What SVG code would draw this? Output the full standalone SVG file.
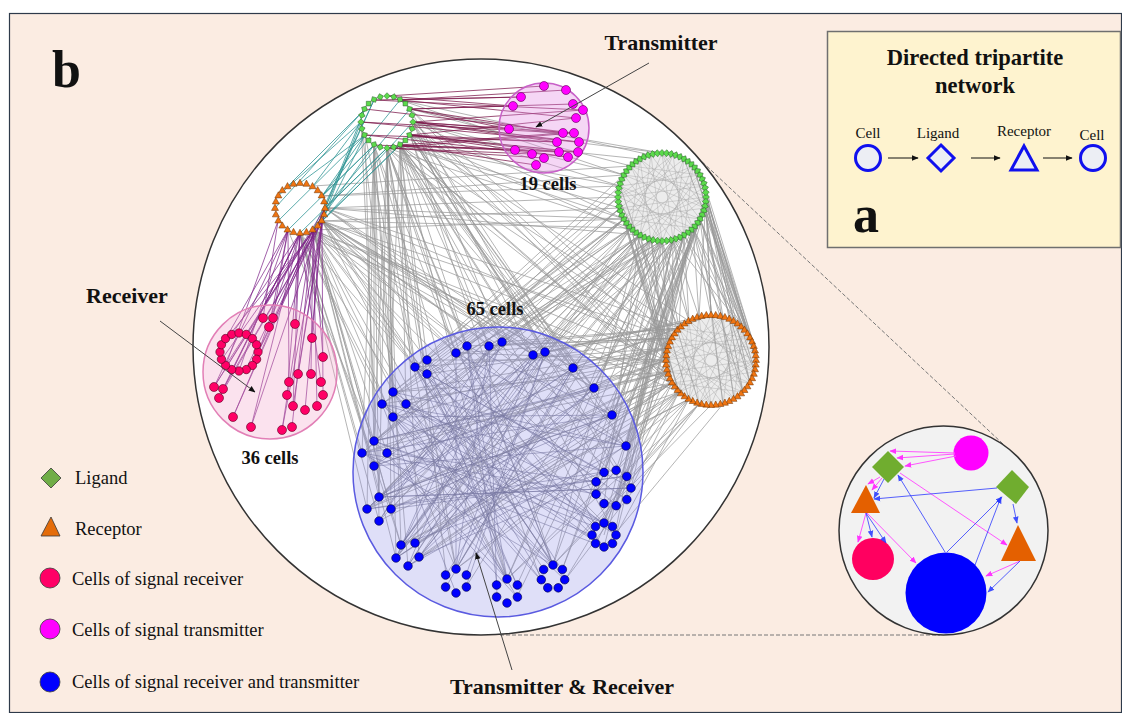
<svg xmlns="http://www.w3.org/2000/svg" width="1122" height="713" viewBox="0 0 1122 713">
<style>
.t{font-family:"Liberation Serif","Times New Roman",serif;fill:#111}
.b{font-weight:bold}
.eg{stroke:#999;stroke-width:1;opacity:.72;fill:none}
.ei{stroke:#999;stroke-width:.8;opacity:.45;fill:none}
.eb{stroke:#707088;stroke-width:.85;opacity:.65;fill:none}
.em{stroke:#7d1a4c;stroke-width:.9;opacity:.85;fill:none}
.et{stroke:#2a9292;stroke-width:.9;opacity:.85;fill:none}
.ep{stroke:#7e2388;stroke-width:.9;opacity:.8;fill:none}
.gd{fill:#5cdb4c;stroke:#2c5e2c;stroke-width:.5}
.ot{fill:#f07512;stroke:#6b3000;stroke-width:.5}
.rn{fill:#ff0066;stroke:#5a0022;stroke-width:.6}
.mn{fill:#ff00ff;stroke:#5a0050;stroke-width:.6}
.bn{fill:#0000ff;stroke:#00004a;stroke-width:.6}
.ptr{stroke:#444;stroke-width:1;fill:none}
.dash{stroke:#777;stroke-width:1;stroke-dasharray:4 2;fill:none}
.ip{stroke:#ff55ff;stroke-width:1;fill:none}
.ib{stroke:#3a46ff;stroke-width:1;fill:none;opacity:.85}
</style>
<defs>
<marker id="ah" viewBox="0 0 10 10" refX="9" refY="5" markerWidth="7" markerHeight="7" markerUnits="userSpaceOnUse" orient="auto"><path d="M0 1L10 5L0 9z" fill="#111"/></marker>
<marker id="ap" viewBox="0 0 10 10" refX="9" refY="5" markerWidth="7" markerHeight="7" markerUnits="userSpaceOnUse" orient="auto"><path d="M0 1L10 5L0 9z" fill="#ff33ff"/></marker>
<marker id="ab" viewBox="0 0 10 10" refX="9" refY="5" markerWidth="7" markerHeight="7" markerUnits="userSpaceOnUse" orient="auto"><path d="M0 1L10 5L0 9z" fill="#2233ff"/></marker>
<path id="dG" d="M40.5 0L44 -3.3L47.5 0L44 3.3Z"/>
<path id="dg" d="M22.7 0L26 -3.2L29.3 0L26 3.2Z"/>
<path id="tr" d="M0 -3.8L3.5 2.4H-3.5Z"/>
</defs>

<rect x="9.5" y="13.5" width="1112" height="699" fill="#fbece2" stroke="#2e3a4a" stroke-width="1.2"/>

<g id="panel-a">
<rect x="827.5" y="31.5" width="293" height="216" fill="#fef3cf" stroke="#6f6f6f" stroke-width="1.5"/>
<text class="t b" x="975" y="65" font-size="22.5" text-anchor="middle">Directed tripartite</text>
<text class="t b" x="975" y="93" font-size="22.5" text-anchor="middle">network</text>
<text class="t" x="868" y="138" font-size="15" text-anchor="middle">Cell</text>
<text class="t" x="938" y="138" font-size="15" text-anchor="middle">Ligand</text>
<text class="t" x="1024" y="136" font-size="15" text-anchor="middle">Receptor</text>
<text class="t" x="1092" y="140" font-size="15" text-anchor="middle">Cell</text>
<circle cx="868" cy="158" r="12.5" fill="#eceef4" stroke="#1010ee" stroke-width="3"/>
<path d="M941 145L954 158L941 171L928 158Z" fill="#eceef4" stroke="#1010ee" stroke-width="3"/>
<path d="M1024 146L1037 170H1011Z" fill="#eceef4" stroke="#1010ee" stroke-width="3"/>
<circle cx="1093" cy="158" r="12.5" fill="#eceef4" stroke="#1010ee" stroke-width="3"/>
<path d="M888 158H918" stroke="#111" stroke-width="1" marker-end="url(#ah)"/>
<path d="M971 158H1000" stroke="#111" stroke-width="1" marker-end="url(#ah)"/>
<path d="M1043 158H1072" stroke="#111" stroke-width="1" marker-end="url(#ah)"/>
<text class="t b" x="853" y="232" font-size="52">a</text>
</g>

<text class="t b" x="52" y="87" font-size="52">b</text>

<path class="dash" d="M698 158L1003 444M500 635H940"/>

<circle id="main-circle" cx="481" cy="347" r="288" fill="#fff" stroke="#333" stroke-width="1.5"/>

<g id="connectors">
<circle cx="662" cy="197" r="42" fill="#a8a8a8" opacity=".22"/>
<circle cx="711" cy="360" r="43" fill="#a8a8a8" opacity=".22"/>
<path class="eg" d="M413 122L624 175M410 135L618 197M410 109L631 166M400 145L620 208M413 122L620 186M410 135L640 159M400 100L651 155M400 145L624 219M387 148L631 228M413 122L662 153M410 109L673 155M410 135L640 235M400 100L624 175M400 145L620 186M413 122L624 219
M400 145L672 383M410 135L666 360M387 148L672 338M400 145L679 328M410 135L689 321M413 122L668 348M387 148L668 372M400 145L679 392M413 122L679 392M410 109L689 399M400 100L672 338
M387 148L456 353M400 145L489 346M374 145L415 367M387 148L393 392M400 145L533 355M410 135L573 368M387 148L374 441M374 145L382 404M400 145L594 388M387 148L379 497M400 145L626 446M374 145L362 453M387 148L401 545M400 145L604 472M410 135L616 470M374 145L367 509M387 148L456 569M400 145L507 579M410 135L553 565M387 148L393 417M400 145L387 453M374 145L374 466M387 148L391 509M400 145L419 557M410 135L612 415M387 148L427 374M400 145L406 404M374 145L379 521M387 148L396 558M400 145L596 527M410 135L545 352M387 148L467 346M400 145L427 360M374 145L408 566M387 148L541 580M400 145L446 575
M413 122L502 342M410 135L594 388M400 145L573 368M387 148L612 415M374 145L456 353M361 122L393 392M365 135L374 441M413 122L626 446M410 135L631 488M400 145L616 535M387 148L553 565M374 145L507 579M365 135L456 569M361 122L379 497M410 109L545 352M413 122L533 355M410 135L489 346M400 145L467 346M387 148L415 367M374 145L393 417
M325 208L618 197M322 221L620 208M322 196L620 186M325 208L624 219M322 221L631 228M322 196L624 175M313 186L631 166M325 208L640 235M313 230L624 219
M322 221L666 360M313 230L668 372M325 208L668 348M322 221L672 338M313 230L672 383M325 208L679 328M300 233L679 392
M313 230L456 353M300 233L415 367M313 230L393 392M322 221L533 355M313 230L374 441M300 233L382 404M322 221L573 368M313 230L594 388M300 233L362 453M322 221L626 446M313 230L379 497M300 233L367 509M313 230L456 569M322 221L507 579M313 230L401 545M322 221L596 482M300 233L393 417M313 230L387 453M322 221L489 346M313 230L427 374M322 221L545 352M300 233L374 466M313 230L391 509M322 221L544 570M313 230L396 558M300 233L379 521
M325 208L502 342M322 221L456 353M313 230L415 367M300 233L406 404M288 230L374 441M313 230L612 415M322 221L594 388M325 208L573 368M322 221L631 488M313 230L604 523M300 233L401 545M322 221L553 565M313 230L507 579M325 208L533 355M322 221L427 360M313 230L467 346
M640 235L456 353M631 228L415 367M624 219L393 392M651 240L374 441M640 235L379 497M631 228L401 545M662 241L456 569M651 240L507 579M640 235L553 565M662 241L489 346M631 228L382 404M624 219L362 453M640 235L367 509M651 240L393 417M662 241L533 355M673 240L573 368M662 241L594 388M684 235L612 415M673 240L626 446M662 241L604 472M684 235L604 523M673 240L616 506M651 240L396 558M640 235L419 557M631 228L408 566M624 219L427 360M620 208L467 346M618 197L415 367M620 208L406 404M624 219L387 453M631 228L374 466M640 235L391 509M651 240L379 521M662 241L415 543M673 240L517 585M684 235L562 570M693 228L616 535M684 235L545 352M673 240L502 342M662 241L427 374M651 240L382 404M640 235L374 441M693 228L626 446M700 219L612 415
M618 197L456 353M620 186L427 360M624 175L415 367M620 208L393 392M624 219L374 441M631 228L379 497M640 235L401 545M651 240L456 569M662 241L507 579M673 240L553 565M684 235L604 547M693 228L631 488M700 219L626 446M705 208L612 415M673 240L594 388M684 235L573 368M662 241L545 352M651 240L533 355M640 235L489 346M631 228L467 346M624 219L382 404M640 235L362 453M651 240L367 509M662 241L396 558M673 240L419 557M684 235L466 587M693 228L517 597M700 219L562 570M706 197L604 472M705 208L596 494
M662 241L627 500M673 240L613 544M684 235L616 506M651 240L596 482M640 235L604 504M693 228L604 535M700 219L596 494M705 208L627 476M706 197L616 470
M666 360L456 353M668 348L415 367M668 372L393 392M672 383L374 441M679 392L379 497M689 399L401 545M666 360L382 404M668 372L362 453M672 383L367 509M679 392L456 569M689 399L507 579M699 404L553 565M672 338L489 346M679 328L533 355M668 348L393 417M666 360L387 453M668 372L391 509M672 383L396 558M679 392L408 566M672 338L427 374M668 348L406 404M666 360L374 466M668 372L379 521M672 383L419 557M689 399L592 535M699 404L604 504M679 392L596 494M672 338L467 346M679 328L502 342M689 321L545 352M666 360L573 368M668 372L594 388M672 383L612 415M679 392L626 446M689 399L415 543
M666 360L427 360M668 348L393 392M668 372L374 441M672 383L379 497M679 392L401 545M689 399L456 569M699 404L507 579M711 405L553 565M723 404L604 547M672 338L456 353M679 328L489 346M689 321L533 355M699 317L545 352M711 315L573 368M666 360L594 388M668 372L612 415M672 383L626 446M679 392L631 488M689 399L616 535M699 404L565 580M668 348L362 453M666 360L367 509M668 372L396 558M672 383L408 566
M666 360L626 446M668 348L612 415M672 338L594 388M679 328L573 368M666 360L616 506M668 372L604 523M672 383L596 544M679 392L565 580
M706 197L734 321M700 219L750 338M705 208L723 317M693 228L711 315M684 235L689 321M700 219L743 328M706 197L755 348M705 208L756 360M693 228L699 317M684 235L679 328M673 240L672 338M662 241L668 348M651 240L666 360M700 219L734 321M706 197L711 315M705 208L743 328M693 228L750 338M684 235L723 317M673 240L699 317M662 241L689 321
M706 197L756 360M705 208L755 372M700 219L750 383M693 228L743 392M705 186L755 348M706 197L750 338M640 235L668 372M631 228L666 360M651 240L672 383M624 219L679 392M662 241L679 328M673 240L689 321
M700 175L756 360M705 186L750 383M706 197L743 392M705 208L734 399M700 219L723 404M693 228L755 372M684 235L750 338M673 240L743 328M700 175L734 321M693 166L750 338M705 186L711 315M706 197L699 317M684 159L755 348M693 166L756 360
M618 197L666 360M620 208L668 372M624 219L672 383M631 228L679 392M640 235L689 399M651 240L699 404M620 186L672 338M618 197L679 328"/>
<path class="ei" d="M706 197L631 228M705 208L624 219M700 219L620 208M693 228L618 197M684 235L620 186M673 240L624 175M662 241L631 166M651 240L640 159M640 235L651 155M631 228L662 153M624 219L673 155M620 208L684 159M618 197L693 166M620 186L700 175M624 175L705 186M631 166L706 197M640 159L705 208M651 155L700 219M662 153L693 228M673 155L684 235M684 159L673 240M693 166L662 241M700 175L651 240M705 186L640 235
M706 197L620 208M700 219L620 186M684 235L631 166M662 241L651 155M640 235L673 155M624 219L693 166M618 197L705 186M624 175L705 208M640 159L693 228M662 153L673 240M684 159L651 240M700 175L631 228M706 197L651 240M693 228L624 219M662 241L620 186M631 228L640 159M618 197L673 155M631 166L700 175M662 153L705 208M693 166L684 235
M756 360L679 392M755 372L672 383M750 383L668 372M743 392L666 360M734 399L668 348M723 404L672 338M711 405L679 328M699 404L689 321M689 399L699 317M679 392L711 315M672 383L723 317M668 372L734 321M666 360L743 328M668 348L750 338M672 338L755 348M679 328L756 360M689 321L755 372M699 317L750 383M711 315L743 392M723 317L734 399M734 321L723 404M743 328L711 405M750 338L699 404M755 348L689 399
M756 360L668 372M750 383L668 348M734 399L679 328M711 405L699 317M689 399L723 317M672 383L743 328M666 360L755 348M672 338L755 372M689 321L743 392M711 315L723 404M734 321L699 404M750 338L679 392M756 360L699 404M743 392L672 383M711 405L668 348M679 392L689 321M666 360L723 317M679 328L750 338M711 315L755 372M743 328L734 399"/>
<path class="eb" d="M415 367L604 472M393 392L604 523M374 441L594 388M382 404L553 565M379 497L573 368M367 509L545 352M362 453L596 494M401 545L533 355M393 417L612 415M387 453L507 579M374 466L626 446M379 521L489 346M456 353L456 569M467 346L507 579M489 346L396 558M502 342L408 566M533 355L367 509M545 352L374 466M427 360L596 527M427 374L553 565M406 404L616 506M594 388L401 545M612 415L362 453M626 446L382 404M631 488L379 497M604 523L374 441M456 569L533 355M507 579L427 360M553 565L393 392M419 557L573 368M415 543L594 388M396 558L502 342M408 566L545 352M456 353L626 446M467 346L612 415M415 367L616 535M393 392L541 580M382 404L604 547M374 441L517 597M362 453L596 544M379 497L631 488M367 509L627 476M391 509L612 415M401 545L604 472M419 557L596 482M446 575L573 368M466 575L545 352M497 585L467 346M517 585L427 374M548 588L415 367M565 580L393 417M592 535L387 453M604 547L406 404
M456 353L604 547M467 346L553 565M489 346L456 569M502 342L379 521M533 355L396 558M545 352L401 545M573 368L367 509M594 388L374 466M612 415L379 497M626 446L393 392M631 488L415 367M627 500L427 360M616 506L456 353M604 472L382 404M596 482L387 453M616 535L406 404M604 523L393 417M592 535L427 374M565 580L415 367M548 588L382 404M517 597L393 392M497 597L489 346M466 587L545 352M446 587L573 368M419 557L594 388M408 566L626 446M396 558L612 415M391 509L627 476M367 509L616 470M374 441L596 527M362 453L553 565M393 417L507 579M382 404L456 593M415 367L517 585M427 360L562 570"/>
<path class="et" d="M361 122L322 221M365 109L325 208M365 135L322 196M374 145L313 230M387 148L300 233M361 122L313 186M365 135L300 183M365 109L288 186M374 100L325 208M374 145L322 196M365 135L322 221M387 148L325 208M400 145L322 221M410 135L313 230M413 122L322 221M410 109L325 208M400 100L322 196M361 122L278 196M365 109L275 208M365 135L278 221M374 145L288 230M374 100L313 230"/>
<path class="em" d="M413 122L509 129M410 109L513 106M400 100L521 97M387 96L544 86M400 100L566 90M410 109L573 104M413 122L583 110M410 135L576 118M400 145L563 133M387 148L574 133M410 135L557 142M413 122L579 142M400 145L515 150M387 148L532 154M410 135L559 152M400 145L578 152M387 148L544 158M410 135L568 157M400 145L536 165M361 122L563 133M365 135L557 142M365 109L574 133M374 145L559 152M374 100L583 110M361 122L579 142M365 135L568 157M413 122L574 133M410 109L563 133M400 100L576 118M413 122L557 142M410 135L578 152M410 109L509 129M387 96L513 106M374 100L521 97"/>
<path class="ep" d="M300 233L220 352M288 230L222 345M313 230L226 365M300 233L232 370M288 230L239 371M313 230L214 387M300 233L223 389M322 221L219 398M313 230L233 417M300 233L251 427M322 221L282 430M313 230L292 427M300 233L293 406M322 221L305 410M313 230L317 406M300 233L287 395M288 230L289 382M322 221L298 374M313 230L311 374M300 233L321 382M322 221L323 395M313 230L323 357M322 221L312 338M300 233L295 324M288 230L269 327M278 221L263 318M288 230L273 318M313 230L246 369M322 221L252 365M300 233L256 359M325 208L258 352M322 221L226 339M313 230L222 359M325 208L214 387M322 221L223 389M325 208L233 417M325 208L293 406M300 233L219 398M288 230L214 387M278 221L226 365M325 208L251 427M313 230L282 430"/>
</g>

<g id="group-blue">
<circle cx="498" cy="472" r="145" fill="#8c8ce6" fill-opacity=".28" stroke="#5a5ae0" stroke-width="1.5"/>
<g class="bn">
<circle cx="456" cy="353" r="4.3"/><circle cx="467" cy="346" r="4.3"/><circle cx="489" cy="346" r="4.3"/><circle cx="502" cy="342" r="4.3"/><circle cx="533" cy="355" r="4.3"/><circle cx="545" cy="352" r="4.3"/><circle cx="415" cy="367" r="4.3"/><circle cx="427" cy="360" r="4.3"/><circle cx="427" cy="374" r="4.3"/><circle cx="573" cy="368" r="4.3"/><circle cx="393" cy="392" r="4.3"/><circle cx="382" cy="404" r="4.3"/><circle cx="406" cy="404" r="4.3"/><circle cx="393" cy="417" r="4.3"/><circle cx="594" cy="388" r="4.3"/><circle cx="612" cy="415" r="4.3"/><circle cx="374" cy="441" r="4.3"/><circle cx="362" cy="453" r="4.3"/><circle cx="387" cy="453" r="4.3"/><circle cx="374" cy="466" r="4.3"/><circle cx="626" cy="446" r="4.3"/><circle cx="379" cy="497" r="4.3"/><circle cx="367" cy="509" r="4.3"/><circle cx="391" cy="509" r="4.3"/><circle cx="379" cy="521" r="4.3"/><circle cx="401" cy="545" r="4.3"/><circle cx="415" cy="543" r="4.3"/><circle cx="396" cy="558" r="4.3"/><circle cx="419" cy="557" r="4.3"/><circle cx="408" cy="566" r="4.3"/>
<g transform="translate(613 488)"><circle cx="18" r="4.3"/><circle cx="18" r="4.3" transform="rotate(40)"/><circle cx="18" r="4.3" transform="rotate(80)"/><circle cx="18" r="4.3" transform="rotate(120)"/><circle cx="18" r="4.3" transform="rotate(160)"/><circle cx="18" r="4.3" transform="rotate(200)"/><circle cx="18" r="4.3" transform="rotate(240)"/><circle cx="18" r="4.3" transform="rotate(280)"/><circle cx="18" r="4.3" transform="rotate(320)"/></g>
<g transform="translate(604 535)"><circle cx="12" r="4.3"/><circle cx="12" r="4.3" transform="rotate(45)"/><circle cx="12" r="4.3" transform="rotate(90)"/><circle cx="12" r="4.3" transform="rotate(135)"/><circle cx="12" r="4.3" transform="rotate(180)"/><circle cx="12" r="4.3" transform="rotate(225)"/><circle cx="12" r="4.3" transform="rotate(270)"/><circle cx="12" r="4.3" transform="rotate(315)"/></g>
<g transform="translate(456 581)"><circle cx="12" r="4.3" transform="rotate(30)"/><circle cx="12" r="4.3" transform="rotate(90)"/><circle cx="12" r="4.3" transform="rotate(150)"/><circle cx="12" r="4.3" transform="rotate(210)"/><circle cx="12" r="4.3" transform="rotate(270)"/><circle cx="12" r="4.3" transform="rotate(330)"/></g>
<g transform="translate(507 591)"><circle cx="12" r="4.3" transform="rotate(30)"/><circle cx="12" r="4.3" transform="rotate(90)"/><circle cx="12" r="4.3" transform="rotate(150)"/><circle cx="12" r="4.3" transform="rotate(210)"/><circle cx="12" r="4.3" transform="rotate(270)"/><circle cx="12" r="4.3" transform="rotate(330)"/></g>
<g transform="translate(553 577)"><circle cx="12" r="4.3" transform="rotate(-90)"/><circle cx="12" r="4.3" transform="rotate(-38.6)"/><circle cx="12" r="4.3" transform="rotate(12.9)"/><circle cx="12" r="4.3" transform="rotate(64.3)"/><circle cx="12" r="4.3" transform="rotate(115.7)"/><circle cx="12" r="4.3" transform="rotate(167.1)"/><circle cx="12" r="4.3" transform="rotate(218.6)"/></g>
</g>
</g>

<g id="group-receiver">
<circle cx="270" cy="372" r="67" fill="#f2a0c6" fill-opacity=".3" stroke="#e27fb6" stroke-width="1.5"/>
<g class="rn">
<g transform="translate(239 352)"><circle cx="19" r="4.2"/><circle cx="19" r="4.2" transform="rotate(22.5)"/><circle cx="19" r="4.2" transform="rotate(45)"/><circle cx="19" r="4.2" transform="rotate(67.5)"/><circle cx="19" r="4.2" transform="rotate(90)"/><circle cx="19" r="4.2" transform="rotate(112.5)"/><circle cx="19" r="4.2" transform="rotate(135)"/><circle cx="19" r="4.2" transform="rotate(157.5)"/><circle cx="19" r="4.2" transform="rotate(180)"/><circle cx="19" r="4.2" transform="rotate(202.5)"/><circle cx="19" r="4.2" transform="rotate(225)"/><circle cx="19" r="4.2" transform="rotate(247.5)"/><circle cx="19" r="4.2" transform="rotate(270)"/><circle cx="19" r="4.2" transform="rotate(292.5)"/><circle cx="19" r="4.2" transform="rotate(315)"/><circle cx="19" r="4.2" transform="rotate(337.5)"/></g>
<circle cx="263" cy="318" r="4.5"/><circle cx="273" cy="318" r="4.5"/><circle cx="269" cy="327" r="4.5"/><circle cx="295" cy="324" r="4.5"/><circle cx="312" cy="338" r="4.5"/><circle cx="323" cy="357" r="4.5"/><circle cx="298" cy="374" r="4.5"/><circle cx="311" cy="374" r="4.5"/><circle cx="289" cy="382" r="4.5"/><circle cx="321" cy="382" r="4.5"/><circle cx="287" cy="395" r="4.5"/><circle cx="323" cy="395" r="4.5"/><circle cx="293" cy="406" r="4.5"/><circle cx="305" cy="410" r="4.5"/><circle cx="317" cy="406" r="4.5"/><circle cx="214" cy="387" r="4.5"/><circle cx="223" cy="389" r="4.5"/><circle cx="219" cy="398" r="4.5"/><circle cx="233" cy="417" r="4.5"/><circle cx="251" cy="427" r="4.5"/><circle cx="282" cy="430" r="4.5"/><circle cx="292" cy="427" r="4.5"/>
</g>
</g>

<g id="group-transmitter">
<circle cx="544" cy="128" r="45" fill="#e28ae2" fill-opacity=".35" stroke="#c860c8" stroke-width="1.5"/>
<g class="mn">
<circle cx="544" cy="86" r="4.5"/><circle cx="566" cy="90" r="4.5"/><circle cx="521" cy="97" r="4.5"/><circle cx="513" cy="106" r="4.5"/><circle cx="573" cy="104" r="4.5"/><circle cx="583" cy="110" r="4.5"/><circle cx="576" cy="118" r="4.5"/><circle cx="509" cy="129" r="4.5"/><circle cx="563" cy="133" r="4.5"/><circle cx="574" cy="133" r="4.5"/><circle cx="557" cy="142" r="4.5"/><circle cx="579" cy="142" r="4.5"/><circle cx="515" cy="150" r="4.5"/><circle cx="532" cy="154" r="4.5"/><circle cx="559" cy="152" r="4.5"/><circle cx="578" cy="152" r="4.5"/><circle cx="544" cy="158" r="4.5"/><circle cx="568" cy="157" r="4.5"/><circle cx="536" cy="165" r="4.5"/>
</g>
</g>

<g id="ring-ligand-small" class="gd" transform="translate(387 122)">
<use href="#dg"/><use href="#dg" transform="rotate(15)"/><use href="#dg" transform="rotate(30)"/><use href="#dg" transform="rotate(45)"/><use href="#dg" transform="rotate(60)"/><use href="#dg" transform="rotate(75)"/><use href="#dg" transform="rotate(90)"/><use href="#dg" transform="rotate(105)"/><use href="#dg" transform="rotate(120)"/><use href="#dg" transform="rotate(135)"/><use href="#dg" transform="rotate(150)"/><use href="#dg" transform="rotate(165)"/><use href="#dg" transform="rotate(180)"/><use href="#dg" transform="rotate(195)"/><use href="#dg" transform="rotate(210)"/><use href="#dg" transform="rotate(225)"/><use href="#dg" transform="rotate(240)"/><use href="#dg" transform="rotate(255)"/><use href="#dg" transform="rotate(270)"/><use href="#dg" transform="rotate(285)"/><use href="#dg" transform="rotate(300)"/><use href="#dg" transform="rotate(315)"/><use href="#dg" transform="rotate(330)"/><use href="#dg" transform="rotate(345)"/>
</g>

<g id="ring-receptor-small" class="ot" transform="translate(300 208)">
<use href="#tr" transform="translate(25)"/><use href="#tr" transform="rotate(15)translate(25)rotate(-15)"/><use href="#tr" transform="rotate(30)translate(25)rotate(-30)"/><use href="#tr" transform="rotate(45)translate(25)rotate(-45)"/><use href="#tr" transform="rotate(60)translate(25)rotate(-60)"/><use href="#tr" transform="rotate(75)translate(25)rotate(-75)"/><use href="#tr" transform="rotate(90)translate(25)rotate(-90)"/><use href="#tr" transform="rotate(105)translate(25)rotate(-105)"/><use href="#tr" transform="rotate(120)translate(25)rotate(-120)"/><use href="#tr" transform="rotate(135)translate(25)rotate(-135)"/><use href="#tr" transform="rotate(150)translate(25)rotate(-150)"/><use href="#tr" transform="rotate(165)translate(25)rotate(-165)"/><use href="#tr" transform="rotate(180)translate(25)rotate(-180)"/><use href="#tr" transform="rotate(195)translate(25)rotate(-195)"/><use href="#tr" transform="rotate(210)translate(25)rotate(-210)"/><use href="#tr" transform="rotate(225)translate(25)rotate(-225)"/><use href="#tr" transform="rotate(240)translate(25)rotate(-240)"/><use href="#tr" transform="rotate(255)translate(25)rotate(-255)"/><use href="#tr" transform="rotate(270)translate(25)rotate(-270)"/><use href="#tr" transform="rotate(285)translate(25)rotate(-285)"/><use href="#tr" transform="rotate(300)translate(25)rotate(-300)"/><use href="#tr" transform="rotate(315)translate(25)rotate(-315)"/><use href="#tr" transform="rotate(330)translate(25)rotate(-330)"/><use href="#tr" transform="rotate(345)translate(25)rotate(-345)"/>
</g>

<g id="ring-ligand-large" class="gd" transform="translate(662 197)">
<use href="#dG"/><use href="#dG" transform="rotate(6)"/><use href="#dG" transform="rotate(12)"/><use href="#dG" transform="rotate(18)"/><use href="#dG" transform="rotate(24)"/><use href="#dG" transform="rotate(30)"/><use href="#dG" transform="rotate(36)"/><use href="#dG" transform="rotate(42)"/><use href="#dG" transform="rotate(48)"/><use href="#dG" transform="rotate(54)"/><use href="#dG" transform="rotate(60)"/><use href="#dG" transform="rotate(66)"/><use href="#dG" transform="rotate(72)"/><use href="#dG" transform="rotate(78)"/><use href="#dG" transform="rotate(84)"/><use href="#dG" transform="rotate(90)"/><use href="#dG" transform="rotate(96)"/><use href="#dG" transform="rotate(102)"/><use href="#dG" transform="rotate(108)"/><use href="#dG" transform="rotate(114)"/><use href="#dG" transform="rotate(120)"/><use href="#dG" transform="rotate(126)"/><use href="#dG" transform="rotate(132)"/><use href="#dG" transform="rotate(138)"/><use href="#dG" transform="rotate(144)"/><use href="#dG" transform="rotate(150)"/><use href="#dG" transform="rotate(156)"/><use href="#dG" transform="rotate(162)"/><use href="#dG" transform="rotate(168)"/><use href="#dG" transform="rotate(174)"/><use href="#dG" transform="rotate(180)"/><use href="#dG" transform="rotate(186)"/><use href="#dG" transform="rotate(192)"/><use href="#dG" transform="rotate(198)"/><use href="#dG" transform="rotate(204)"/><use href="#dG" transform="rotate(210)"/><use href="#dG" transform="rotate(216)"/><use href="#dG" transform="rotate(222)"/><use href="#dG" transform="rotate(228)"/><use href="#dG" transform="rotate(234)"/><use href="#dG" transform="rotate(240)"/><use href="#dG" transform="rotate(246)"/><use href="#dG" transform="rotate(252)"/><use href="#dG" transform="rotate(258)"/><use href="#dG" transform="rotate(264)"/><use href="#dG" transform="rotate(270)"/><use href="#dG" transform="rotate(276)"/><use href="#dG" transform="rotate(282)"/><use href="#dG" transform="rotate(288)"/><use href="#dG" transform="rotate(294)"/><use href="#dG" transform="rotate(300)"/><use href="#dG" transform="rotate(306)"/><use href="#dG" transform="rotate(312)"/><use href="#dG" transform="rotate(318)"/><use href="#dG" transform="rotate(324)"/><use href="#dG" transform="rotate(330)"/><use href="#dG" transform="rotate(336)"/><use href="#dG" transform="rotate(342)"/><use href="#dG" transform="rotate(348)"/><use href="#dG" transform="rotate(354)"/>
</g>

<g id="ring-receptor-large" class="ot" transform="translate(711 360)">
<use href="#tr" transform="translate(45)"/><use href="#tr" transform="rotate(6)translate(45)rotate(-6)"/><use href="#tr" transform="rotate(12)translate(45)rotate(-12)"/><use href="#tr" transform="rotate(18)translate(45)rotate(-18)"/><use href="#tr" transform="rotate(24)translate(45)rotate(-24)"/><use href="#tr" transform="rotate(30)translate(45)rotate(-30)"/><use href="#tr" transform="rotate(36)translate(45)rotate(-36)"/><use href="#tr" transform="rotate(42)translate(45)rotate(-42)"/><use href="#tr" transform="rotate(48)translate(45)rotate(-48)"/><use href="#tr" transform="rotate(54)translate(45)rotate(-54)"/><use href="#tr" transform="rotate(60)translate(45)rotate(-60)"/><use href="#tr" transform="rotate(66)translate(45)rotate(-66)"/><use href="#tr" transform="rotate(72)translate(45)rotate(-72)"/><use href="#tr" transform="rotate(78)translate(45)rotate(-78)"/><use href="#tr" transform="rotate(84)translate(45)rotate(-84)"/><use href="#tr" transform="rotate(90)translate(45)rotate(-90)"/><use href="#tr" transform="rotate(96)translate(45)rotate(-96)"/><use href="#tr" transform="rotate(102)translate(45)rotate(-102)"/><use href="#tr" transform="rotate(108)translate(45)rotate(-108)"/><use href="#tr" transform="rotate(114)translate(45)rotate(-114)"/><use href="#tr" transform="rotate(120)translate(45)rotate(-120)"/><use href="#tr" transform="rotate(126)translate(45)rotate(-126)"/><use href="#tr" transform="rotate(132)translate(45)rotate(-132)"/><use href="#tr" transform="rotate(138)translate(45)rotate(-138)"/><use href="#tr" transform="rotate(144)translate(45)rotate(-144)"/><use href="#tr" transform="rotate(150)translate(45)rotate(-150)"/><use href="#tr" transform="rotate(156)translate(45)rotate(-156)"/><use href="#tr" transform="rotate(162)translate(45)rotate(-162)"/><use href="#tr" transform="rotate(168)translate(45)rotate(-168)"/><use href="#tr" transform="rotate(174)translate(45)rotate(-174)"/><use href="#tr" transform="rotate(180)translate(45)rotate(-180)"/><use href="#tr" transform="rotate(186)translate(45)rotate(-186)"/><use href="#tr" transform="rotate(192)translate(45)rotate(-192)"/><use href="#tr" transform="rotate(198)translate(45)rotate(-198)"/><use href="#tr" transform="rotate(204)translate(45)rotate(-204)"/><use href="#tr" transform="rotate(210)translate(45)rotate(-210)"/><use href="#tr" transform="rotate(216)translate(45)rotate(-216)"/><use href="#tr" transform="rotate(222)translate(45)rotate(-222)"/><use href="#tr" transform="rotate(228)translate(45)rotate(-228)"/><use href="#tr" transform="rotate(234)translate(45)rotate(-234)"/><use href="#tr" transform="rotate(240)translate(45)rotate(-240)"/><use href="#tr" transform="rotate(246)translate(45)rotate(-246)"/><use href="#tr" transform="rotate(252)translate(45)rotate(-252)"/><use href="#tr" transform="rotate(258)translate(45)rotate(-258)"/><use href="#tr" transform="rotate(264)translate(45)rotate(-264)"/><use href="#tr" transform="rotate(270)translate(45)rotate(-270)"/><use href="#tr" transform="rotate(276)translate(45)rotate(-276)"/><use href="#tr" transform="rotate(282)translate(45)rotate(-282)"/><use href="#tr" transform="rotate(288)translate(45)rotate(-288)"/><use href="#tr" transform="rotate(294)translate(45)rotate(-294)"/><use href="#tr" transform="rotate(300)translate(45)rotate(-300)"/><use href="#tr" transform="rotate(306)translate(45)rotate(-306)"/><use href="#tr" transform="rotate(312)translate(45)rotate(-312)"/><use href="#tr" transform="rotate(318)translate(45)rotate(-318)"/><use href="#tr" transform="rotate(324)translate(45)rotate(-324)"/><use href="#tr" transform="rotate(330)translate(45)rotate(-330)"/><use href="#tr" transform="rotate(336)translate(45)rotate(-336)"/><use href="#tr" transform="rotate(342)translate(45)rotate(-342)"/><use href="#tr" transform="rotate(348)translate(45)rotate(-348)"/><use href="#tr" transform="rotate(354)translate(45)rotate(-354)"/>
</g>

<g id="labels">
<text class="t b" x="661" y="50" font-size="22" text-anchor="middle">Transmitter</text>
<path class="ptr" d="M649 63L536 127" marker-end="url(#ah)"/>
<text class="t b" x="548" y="190" font-size="18.5" text-anchor="middle">19 cells</text>
<text class="t b" x="495" y="315" font-size="18.5" text-anchor="middle">65 cells</text>
<text class="t b" x="270" y="464" font-size="18.5" text-anchor="middle">36 cells</text>
<text class="t b" x="86" y="303" font-size="22">Receiver</text>
<path class="ptr" d="M160 321L255 392" marker-end="url(#ah)"/>
<text class="t b" x="562" y="694" font-size="22" text-anchor="middle">Transmitter &amp; Receiver</text>
<path class="ptr" d="M512 670L476 553" marker-end="url(#ah)"/>
</g>

<g id="inset">
<circle cx="943.5" cy="530.5" r="104.5" fill="#f2f2f2" stroke="#333" stroke-width="1.5"/>
<circle cx="971" cy="453" r="17.5" fill="#ff00ff"/>
<path d="M888 451L904 467L888 483L872 467Z" fill="#70ad2f"/>
<path d="M1012 470L1029 487L1016 504L996 487Z" fill="#70ad2f"/>
<path d="M866 485L880 513H851Z" fill="#e46000"/>
<path d="M1018 525L1036 561H1001Z" fill="#e46000"/>
<circle cx="873" cy="559" r="21" fill="#ff0060"/>
<circle cx="946" cy="593" r="40.5" fill="#0000ff"/>
<path class="ip" d="M955 453L890 451" marker-end="url(#ap)"/>
<path class="ip" d="M955 454L897 458" marker-end="url(#ap)"/>
<path class="ip" d="M956 456L905 466" marker-end="url(#ap)"/>
<path class="ip" d="M880 477L868 484" marker-end="url(#ap)"/>
<path class="ip" d="M882 478L872 490" marker-end="url(#ap)"/>
<path class="ip" d="M900 473L1007 545" marker-end="url(#ap)"/>
<path class="ip" d="M866 513L858 542" marker-end="url(#ap)"/>
<path class="ip" d="M867 513L916 563" marker-end="url(#ap)"/>
<path class="ip" d="M1020 561L986 576" marker-end="url(#ap)"/>
<path class="ib" d="M884 479L874 498" marker-end="url(#ab)"/>
<path class="ib" d="M997 488L874 499" marker-end="url(#ab)"/>
<path class="ib" d="M945 552L898 475" marker-end="url(#ab)"/>
<path class="ib" d="M947 552L1002 497" marker-end="url(#ab)"/>
<path class="ib" d="M975 565L1001 497" marker-end="url(#ab)"/>
<path class="ib" d="M1013 504L1017 523" marker-end="url(#ab)"/>
<path class="ib" d="M866 513L872 537" marker-end="url(#ab)"/>
<path class="ib" d="M866 513L886 543" marker-end="url(#ab)"/>
<path class="ib" d="M1020 561L988 592" marker-end="url(#ab)"/>
</g>

<g id="legend">
<path d="M51 468L61 478L51 488L41 478Z" fill="#70ad47" stroke="#3a3a3a" stroke-width=".8"/>
<text class="t" x="75" y="484" font-size="18.5">Ligand</text>
<path d="M51 517L60 536H41Z" fill="#e46c0a" stroke="#3a3a3a" stroke-width=".8"/>
<text class="t" x="75" y="535" font-size="18.5">Receptor</text>
<circle cx="50" cy="578" r="10" fill="#ff0066" stroke="#3a3a3a" stroke-width=".8"/>
<text class="t" x="72" y="585" font-size="18.5">Cells of signal receiver</text>
<circle cx="50" cy="629" r="10" fill="#ff00ff" stroke="#3a3a3a" stroke-width=".8"/>
<text class="t" x="72" y="636" font-size="18.5">Cells of signal transmitter</text>
<circle cx="50" cy="682" r="10" fill="#0000ff" stroke="#3a3a3a" stroke-width=".8"/>
<text class="t" x="72" y="688" font-size="18.5">Cells of signal receiver and transmitter</text>
</g>
</svg>
